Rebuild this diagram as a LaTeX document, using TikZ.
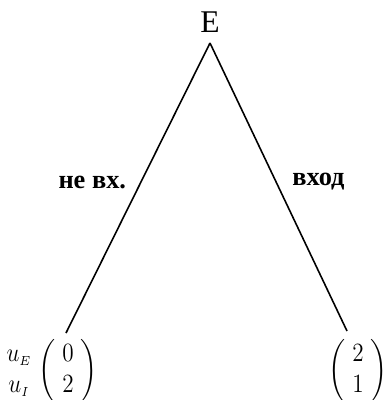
\documentclass[tikz,border=0pt]{standalone}
\usepackage{amsmath}
\usepackage{graphicx}
\usepackage{fontspec}
\setmainfont{Liberation Serif}
\usetikzlibrary{positioning}
\newcommand{\payvec}[2]{\scalebox{1.1}[1.25]{$\begin{pmatrix}\;#1\;\\\;#2\;\end{pmatrix}$}}

\begin{document}
\begin{tikzpicture}[
  x=0.02cm, y=-0.02cm,
  edge/.style={line width=0.9pt},
  label/.style={font=\bfseries\fontsize{15}{18}\selectfont, inner sep=0pt},
  payoff/.style={font=\large, inner sep=0pt}
]
\useasboundingbox (0,0) rectangle (385,400);

\node[font=\fontsize{18}{21}\selectfont, inner sep=0pt] (root) at (210,22) {E};
\coordinate (top) at (210,43);
\coordinate (lend) at (66,333);
\coordinate (rend) at (347,331);

\node[payoff] (lvec) at (68,371) {\payvec{0}{2}};
\node[payoff] (names) at (19,371) {\scalebox{1.1}[1.25]{$\begin{matrix}u_{\scriptscriptstyle E}\\u_{\scriptscriptstyle I}\end{matrix}$}};
\node[payoff] (rvec) at (358,371) {\payvec{2}{1}};

\draw[edge] (top) -- node[label, pos=0.48, left=8pt] {не вх.} (lend);
\draw[edge] (top) -- node[label, pos=0.48, right=9pt] {вход} (rend);
\end{tikzpicture}
\end{document}
